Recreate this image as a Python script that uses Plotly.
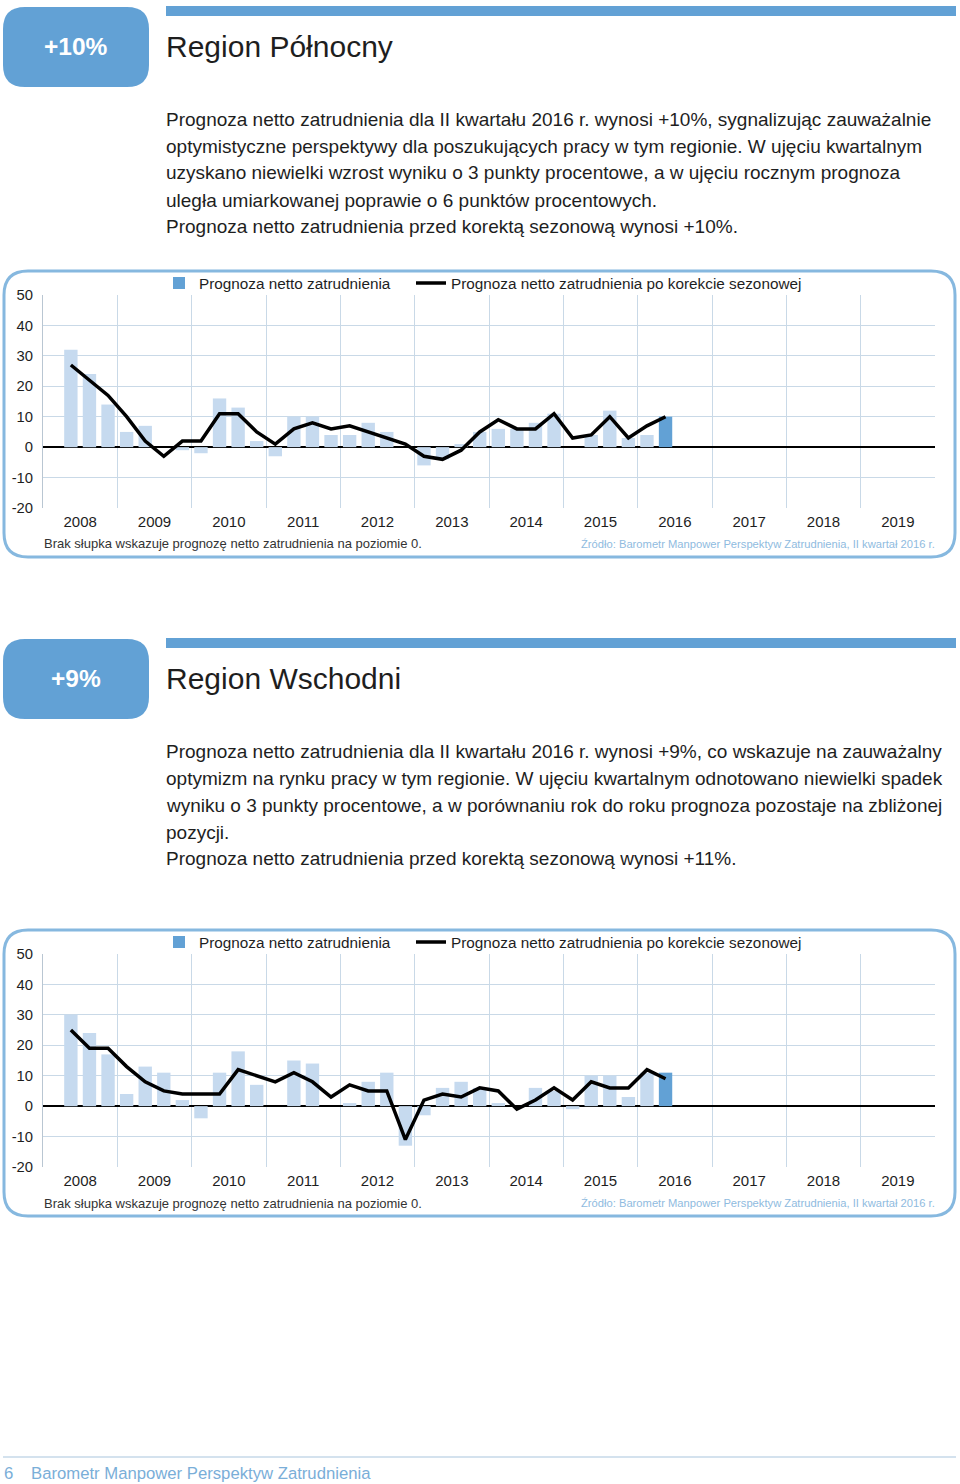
import plotly.graph_objects as go

W, H = 960, 1484

# ---------------- data ----------------
quarters = ["2008Q2", "2008Q3", "2008Q4",
            "2009Q1", "2009Q2", "2009Q3", "2009Q4",
            "2010Q1", "2010Q2", "2010Q3", "2010Q4",
            "2011Q1", "2011Q2", "2011Q3", "2011Q4",
            "2012Q1", "2012Q2", "2012Q3", "2012Q4",
            "2013Q1", "2013Q2", "2013Q3", "2013Q4",
            "2014Q1", "2014Q2", "2014Q3", "2014Q4",
            "2015Q1", "2015Q2", "2015Q3", "2015Q4",
            "2016Q1", "2016Q2"]

north_bars = [32, 24, 14,
              5, 7, 0, -1,
              -2, 16, 13, 2,
              -3, 10, 10, 4,
              4, 8, 5, 0,
              -6, -4, 1, 5,
              6, 6, 8, 11,
              0, 4, 12, 3,
              4, 10]
north_line = [27, 22, 17,
              10, 2, -3, 2,
              2, 11, 11, 5,
              1, 6, 8, 6,
              7, 5, 3, 1,
              -3, -4, -1, 5,
              9, 6, 6, 11,
              3, 4, 10, 3,
              7, 10]

east_bars = [30, 24, 17,
             4, 13, 11, 2,
             -4, 11, 18, 7,
             0, 15, 14, 0,
             1, 8, 11, -13,
             -3, 6, 8, 6,
             1, 0, 6, 5,
             -1, 10, 10, 3,
             11, 11]
east_line = [25, 19, 19,
             13, 8, 5, 4,
             4, 4, 12, 10,
             8, 11, 8, 3,
             7, 5, 5, -11,
             2, 4, 3, 6,
             5, -1, 2, 6,
             2, 8, 6, 6,
             12, 9]

years = list(range(2008, 2020))
year_labels = [str(y) for y in years]
y_ticks = [-20, -10, 0, 10, 20, 30, 40, 50]
y_tick_labels = ["-20", "-10", "0", "10", "20", "30", "40", "50"]

legend_bar = "Prognoza netto zatrudnienia"
legend_line = "Prognoza netto zatrudnienia po korekcie sezonowej"
note_text = "Brak słupka wskazuje prognozę netto zatrudnienia na poziomie 0."
source_text = "Źródło: Barometr Manpower Perspektyw Zatrudnienia, II kwartał 2016 r."

north_badge = "+10%"
north_title = "Region Północny"
north_par = [
    "Prognoza netto zatrudnienia dla II kwartału 2016 r. wynosi +10%, sygnalizując zauważalnie",
    "optymistyczne perspektywy dla poszukujących pracy w tym regionie. W ujęciu kwartalnym",
    "uzyskano niewielki wzrost wyniku o 3 punkty procentowe, a w ujęciu rocznym prognoza",
    "uległa umiarkowanej poprawie o 6 punktów procentowych.",
    "Prognoza netto zatrudnienia przed korektą sezonową wynosi +10%.",
]
east_badge = "+9%"
east_title = "Region Wschodni"
east_par = [
    "Prognoza netto zatrudnienia dla II kwartału 2016 r. wynosi +9%, co wskazuje na zauważalny",
    "optymizm na rynku pracy w tym regionie. W ujęciu kwartalnym odnotowano niewielki spadek",
    "wyniku o 3 punkty procentowe, a w porównaniu rok do roku prognoza pozostaje na zbliżonej",
    "pozycji.",
    "Prognoza netto zatrudnienia przed korektą sezonową wynosi +11%.",
]
footer_num = "6"
footer_text = "Barometr Manpower Perspektyw Zatrudnienia"

# ---------------- style ----------------
FONT = "Liberation Sans, Arial, Helvetica, sans-serif"
BLUE = "#62a1d5"
LIGHT = "#c6daef"
FRAME = "#86b8df"
GRID = "#c9d9e7"
TEXT = "#1e1e1e"


def qpos(q):
    return int(q[:4]) + (int(q[5]) - 0.5) / 4.0


xs = [qpos(q) for q in quarters]
year_centers = [y + 0.5 for y in years]
year_bounds = list(range(2008, 2021))


def px(x):
    return x / W


def py(y):
    return 1 - y / H


def rrect(x0, y0, x1, y1, r):
    rx, ry = r / W, r / H
    X0, X1 = px(x0), px(x1)
    Y0, Y1 = py(y0), py(y1)  # Y0 top (larger), Y1 bottom
    return (f"M{X0+rx},{Y0} L{X1-rx},{Y0} Q{X1},{Y0} {X1},{Y0-ry} "
            f"L{X1},{Y1+ry} Q{X1},{Y1} {X1-rx},{Y1} L{X0+rx},{Y1} "
            f"Q{X0},{Y1} {X0},{Y1+ry} L{X0},{Y0-ry} Q{X0},{Y0} {X0+rx},{Y0} Z")


fig = go.Figure()

charts = [
    dict(bars=north_bars, line=north_line, xa="x", ya="y", lb="legend", ll="legend3"),
    dict(bars=east_bars, line=east_line, xa="x2", ya="y2", lb="legend2", ll="legend4"),
]
for c in charts:
    b = c["bars"]
    fig.add_trace(go.Bar(x=xs[:-1], y=b[:-1], width=0.18, marker=dict(color=LIGHT, line=dict(width=0)),
                         xaxis=c["xa"], yaxis=c["ya"], showlegend=False, hoverinfo="skip"))
    fig.add_trace(go.Bar(x=xs[-1:], y=b[-1:], width=0.18, marker=dict(color=BLUE, line=dict(width=0)),
                         xaxis=c["xa"], yaxis=c["ya"], name=legend_bar, legend=c["lb"]))
    fig.add_trace(go.Scatter(x=xs, y=c["line"], mode="lines", line=dict(color="black", width=3.5),
                             xaxis=c["xa"], yaxis=c["ya"], name=legend_line, legend=c["ll"]))

# layout
sections = [
    dict(off=0, badge=north_badge, title=north_title, par=north_par, xa="xaxis", ya="yaxis",
         lb="legend", ll="legend3"),
    dict(off=659, badge=east_badge, title=east_title, par=east_par, xa="xaxis2", ya="yaxis2",
         lb="legend2", ll="legend4"),
]
shapes = []
annotations = []
layout = dict(
    width=W, height=H, margin=dict(l=0, r=0, t=0, b=0, pad=0, autoexpand=False),
    paper_bgcolor="white", plot_bgcolor="rgba(0,0,0,0)",
    font=dict(family=FONT, color=TEXT),
    barmode="overlay", showlegend=True,
)

for i, s in enumerate(sections):
    o = s["off"]
    ho = 0 if i == 0 else 632
    # header
    shapes.append(dict(type="path", path=rrect(3, 7 + ho, 149, 87 + ho, 22), xref="paper", yref="paper",
                       fillcolor=BLUE, line=dict(width=0), layer="below"))
    shapes.append(dict(type="rect", x0=px(166), x1=px(956), y0=py(6 + ho), y1=py(16 + ho),
                       xref="paper", yref="paper", fillcolor=BLUE, line=dict(width=0), layer="below"))
    annotations.append(dict(text=s["badge"], x=px(76), y=py(47 + ho), xref="paper", yref="paper",
                            showarrow=False, xanchor="center", yanchor="middle",
                            font=dict(size=24.5, color="white", family=FONT, weight="bold")))
    annotations.append(dict(text=s["title"], x=px(164), y=py(46 + ho), xref="paper", yref="paper",
                            showarrow=False, xanchor="left", yanchor="middle",
                            font=dict(size=30, color=TEXT, family=FONT)))
    for k, line in enumerate(s["par"]):
        annotations.append(dict(text=line, x=px(164), y=py(119 + ho + 27 * k), xref="paper", yref="paper",
                                showarrow=False, xanchor="left", yanchor="middle",
                                font=dict(size=19, color=TEXT, family=FONT)))
    # chart frame
    shapes.append(dict(type="path", path=rrect(4, 271 + o, 955, 557 + o, 24), xref="paper", yref="paper",
                       fillcolor="rgba(0,0,0,0)", line=dict(color=FRAME, width=3), layer="below"))
    # axes
    layout[s["xa"]] = dict(
        domain=[px(43), px(935)], range=[2008, 2020], anchor=s["ya"].replace("axis", ""),
        tickmode="array", tickvals=year_centers, ticktext=year_labels, ticks="",
        showgrid=False, zeroline=False, showline=False,
        tickfont=dict(size=15, color=TEXT, family=FONT), ticklabelstandoff=3,
        minor=dict(tickmode="array", tickvals=year_bounds, showgrid=True, gridcolor=GRID, gridwidth=1, ticks=""),
    )
    layout[s["ya"]] = dict(
        domain=[py(508 + o), py(295 + o)], range=[-20, 50], anchor=s["xa"].replace("axis", ""),
        tickmode="array", tickvals=y_ticks, ticktext=y_tick_labels, ticks="",
        showgrid=True, gridcolor=GRID, gridwidth=1,
        zeroline=True, zerolinecolor="black", zerolinewidth=2,
        showline=True, linecolor="#b9c6d2", linewidth=1,
        tickfont=dict(size=14.8, color=TEXT, family=FONT), ticklabelstandoff=6,
    )
    for name, lx in ((s["lb"], 159), (s["ll"], 411)):
        layout[name] = dict(
            orientation="h", x=px(lx), y=py(283 + o), xanchor="left", yanchor="middle",
            font=dict(size=15.3, color=TEXT, family=FONT), bgcolor="rgba(0,0,0,0)",
            itemwidth=30,
        )
    annotations.append(dict(text=note_text, x=px(42), y=py(544 + o), xref="paper", yref="paper",
                            showarrow=False, xanchor="left", yanchor="middle",
                            font=dict(size=13, color="#333333", family=FONT)))
    annotations.append(dict(text=source_text, x=px(937), y=py(544 + o), xref="paper", yref="paper",
                            showarrow=False, xanchor="right", yanchor="middle",
                            font=dict(size=11.2, color="#8fbbe0", family=FONT)))

# footer
shapes.append(dict(type="line", x0=px(3), x1=px(956), y0=py(1457), y1=py(1457), xref="paper", yref="paper",
                   line=dict(color="#a9c5dd", width=1)))
annotations.append(dict(text=footer_num, x=px(2), y=py(1473), xref="paper", yref="paper", showarrow=False,
                        xanchor="left", yanchor="middle", font=dict(size=16.7, color="#7aaed8", family=FONT)))
annotations.append(dict(text=footer_text, x=px(29), y=py(1473), xref="paper", yref="paper", showarrow=False,
                        xanchor="left", yanchor="middle", font=dict(size=16.7, color="#7aaed8", family=FONT)))

layout["shapes"] = shapes
layout["annotations"] = annotations
fig.update_layout(**layout)
fig.write_html("out.html", config={"displayModeBar": False},
               post_script=("var st=document.createElement('style');"
                            "st.textContent='html,body{margin:0!important;padding:0!important;overflow:hidden;"
                            "height:1484px;}.plotly-graph-div{position:fixed!important;top:0!important;left:0!important;}';"
                            "document.head.appendChild(st);"))
